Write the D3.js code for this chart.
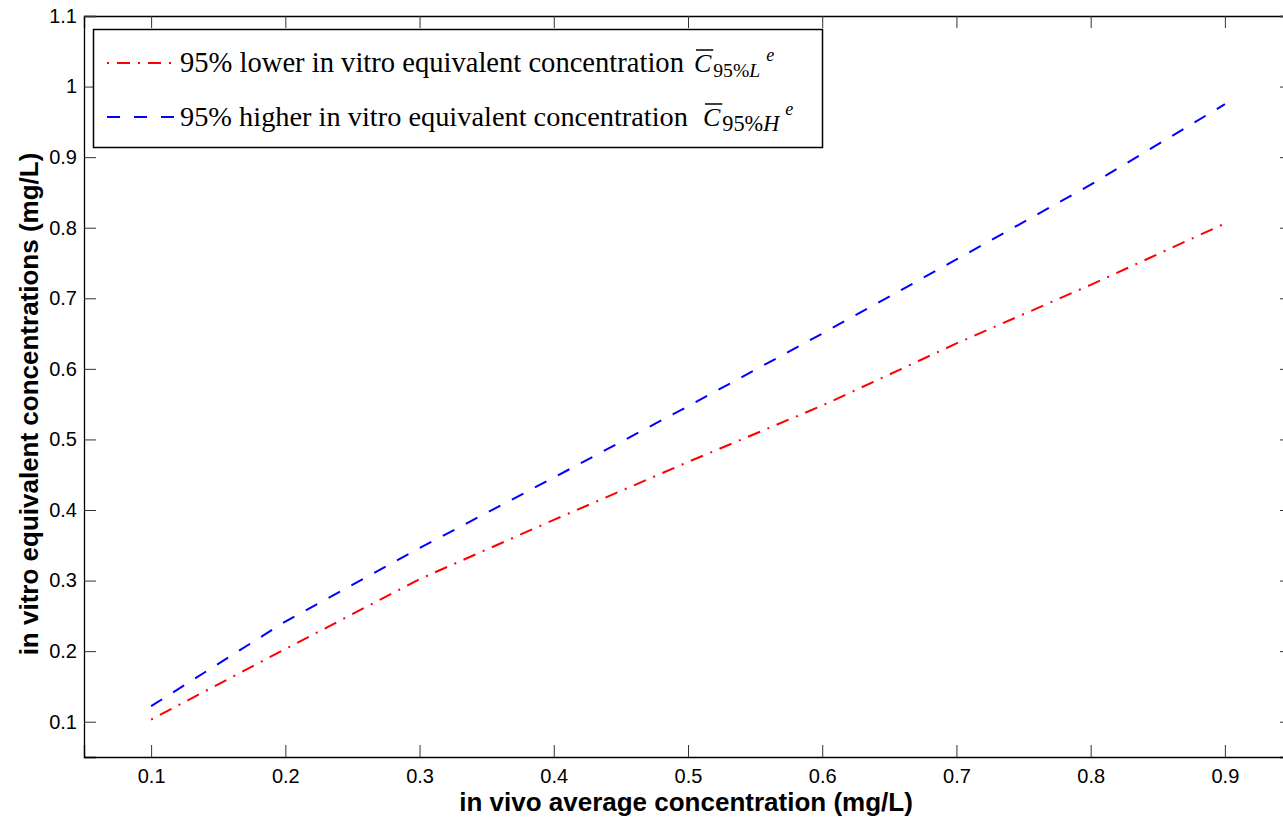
<!DOCTYPE html>
<html>
<head>
<meta charset="utf-8">
<script src="https://cdn.jsdelivr.net/npm/d3@7"></script>
<style>
  body { margin: 0; background: #fff; }
  svg { display: block; }
</style>
</head>
<body>
<div id="chart"></div>
<script>
// data
var xValues = [0.1, 0.2, 0.3, 0.4, 0.5, 0.6, 0.7, 0.8, 0.9];
var lowerValues = [0.103, 0.203, 0.302, 0.386, 0.468, 0.548, 0.636, 0.719, 0.806];
var higherValues = [0.122, 0.242, 0.346, 0.446, 0.547, 0.650, 0.755, 0.861, 0.975];
var xTicks = [0.1, 0.2, 0.3, 0.4, 0.5, 0.6, 0.7, 0.8, 0.9];
var yTicks = [0.1, 0.2, 0.3, 0.4, 0.5, 0.6, 0.7, 0.8, 0.9, 1, 1.1];
var seriesNames = ['95% lower in vitro equivalent concentration', '95% higher in vitro equivalent concentration'];
var seriesSubs = ['95%L', '95%H'];

var width = 1283, height = 817;
var sans = '"Liberation Sans", Arial, sans-serif';
var serif = '"Liberation Serif", "Times New Roman", serif';
var svg = d3.select('#chart').append('svg').attr('width', width).attr('height', height);

var x = d3.scaleLinear().domain([0.05, 0.95]).range([84, 1292]);
var y = d3.scaleLinear().domain([0.05, 1.1]).range([757, 16]);

// Axes (MATLAB style box with inward ticks)
	var fmt = d3.format('~g');
	function styleAxis(g) {
		g.attr('font-size', null).attr('font-family', null);
		g.selectAll('.tick text')
			.style('font-family', sans).style('font-size', '20px').attr('fill', '#000');
		g.selectAll('.tick line').attr('stroke', '#333');
		g.select('.domain').attr('stroke', '#000').attr('stroke-width', 1.3);
	}
	svg.append('g')
		.attr('transform', 'translate(0,' + y(0.05) + ')')
		.call(d3.axisBottom(x).tickValues(xTicks).tickFormat(fmt).tickSize(-12).tickPadding(12))
		.call(styleAxis);
	svg.append('g')
		.attr('transform', 'translate(0,' + y(1.1) + ')')
		.call(d3.axisTop(x).tickValues(xTicks).tickFormat('').tickSize(-12))
		.call(styleAxis);
	svg.append('g')
		.attr('transform', 'translate(' + x(0.05) + ',0)')
		.call(d3.axisLeft(y).tickValues(yTicks).tickFormat(fmt).tickSize(-12).tickPadding(7))
		.call(styleAxis);
	svg.append('g')
		.attr('transform', 'translate(' + x(0.95) + ',0)')
		.call(d3.axisRight(y).tickValues(yTicks).tickFormat('').tickSize(-12))
		.call(styleAxis);

// Lines
	var line = d3.line().x((d, i) => x(xValues[i])).y(d => y(d));
	svg.append('path').datum(lowerValues)
		.attr('d', line).attr('fill', 'none').attr('stroke', '#ff0000')
		.attr('stroke-width', 2).attr('stroke-dasharray', '2,8,13,8');
	svg.append('path').datum(higherValues)
		.attr('d', line).attr('fill', 'none').attr('stroke', '#0000ff')
		.attr('stroke-width', 2).attr('stroke-dasharray', '13,13');

// Axis titles
	var xTitle = svg.append('text')
		.attr('x', 686).attr('y', 811)
		.attr('text-anchor', 'middle')
		.style('font-family', sans)
		.style('font-weight', 'bold').style('font-size', '26px')
		.text('in vivo average concentration (mg/L)');
	var yTitle = svg.append('text')
		.attr('transform', 'translate(38,404) rotate(-90)')
		.attr('text-anchor', 'middle')
		.style('font-family', sans)
		.style('font-weight', 'bold').style('font-size', '26px')
		.text('in vitro equivalent concentrations (mg/L)');

// Legend
	var legend = svg.append('g');
	legend.append('rect')
		.attr('x', 93.5).attr('y', 29.5).attr('width', 729).attr('height', 118)
		.attr('fill', '#fff').attr('stroke', '#000').attr('stroke-width', 1.5);

	var legendRows = [
		{ color: '#ff0000', dash: '2,8,13,8', cy: 63, base: 72, width: 504, gap: 10, subW: 47 },
		{ color: '#0000ff', dash: '13,14', cy: 117, base: 126, width: 508, gap: 15, subW: 57 }
	];

	legendRows.forEach((row, i) => {
		legend.append('line')
			.attr('x1', 107).attr('x2', 174).attr('y1', row.cy).attr('y2', row.cy)
			.attr('stroke', row.color).attr('stroke-width', 2)
			.attr('stroke-dasharray', row.dash);

		var main = legend.append('text')
			.attr('x', 180).attr('y', row.base)
			.style('font-family', serif).style('font-size', '24px')
			.text(seriesNames[i]);
		// fit the phrase to the width it takes in the reference
		var w = main.node().getComputedTextLength();
		main.style('font-size', (24 * row.width / w) + 'px');
		var cx = 180 + main.node().getComputedTextLength() + row.gap;

		var c = legend.append('text')
			.attr('x', cx).attr('y', row.base)
			.style('font-family', serif).style('font-style', 'italic').style('font-size', '26px')
			.text('C');
		var cw = c.node().getComputedTextLength();
		legend.append('line')
			.attr('x1', cx + 2).attr('x2', cx + cw + 2)
			.attr('y1', row.base - 22).attr('y2', row.base - 22)
			.attr('stroke', '#000').attr('stroke-width', 1.5);

		var subX = cx + cw + 2;
		var sub = legend.append('text')
			.attr('x', subX).attr('y', row.base + 5)
			.style('font-family', serif).style('font-size', '18px')
			.text(seriesSubs[i].slice(0, 3));
		var sw = sub.node().getComputedTextLength();
		var subL = legend.append('text')
			.attr('x', subX + sw).attr('y', row.base + 5)
			.style('font-family', serif).style('font-style', 'italic').style('font-size', '18px')
			.text(seriesSubs[i].slice(3));
		var lw = subL.node().getComputedTextLength();
		// stretch the subscript to the reference width
		var scale = row.subW / (sw + lw);
		sub.style('font-size', (18 * scale) + 'px');
		sw = sub.node().getComputedTextLength();
		subL.attr('x', subX + sw).style('font-size', (18 * scale) + 'px');
		lw = subL.node().getComputedTextLength();

		legend.append('text')
			.attr('x', subX + sw + lw + 6).attr('y', row.base - 11)
			.style('font-family', serif).style('font-style', 'italic').style('font-size', '18px')
			.text('e');
	});
</script>
</body>
</html>
